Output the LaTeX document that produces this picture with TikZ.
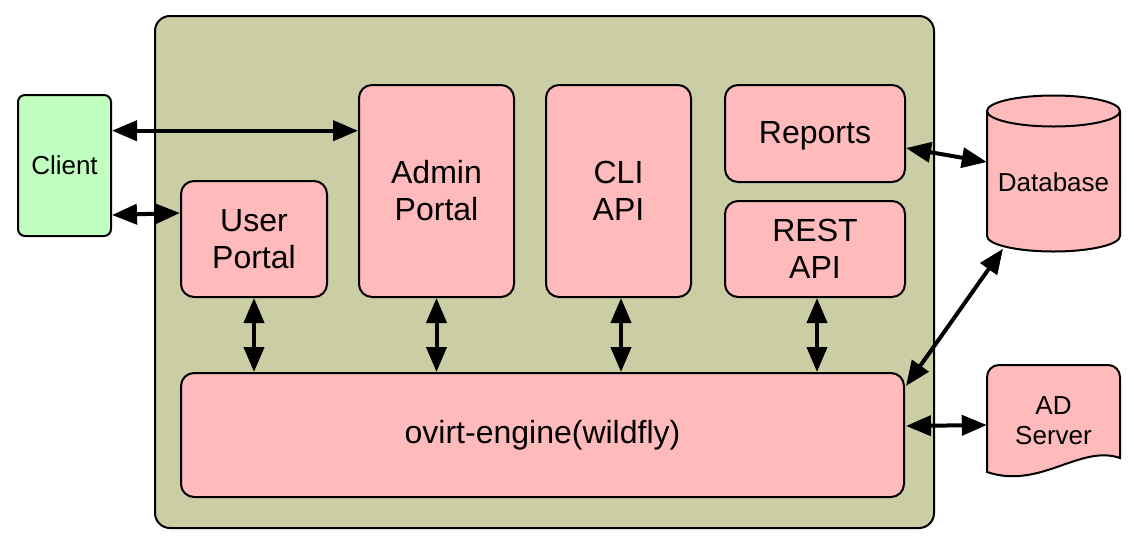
\documentclass[tikz,border=0pt]{standalone}
\usepackage{fontspec}
\setmainfont{Liberation Sans}
\usetikzlibrary{arrows.meta}
\definecolor{outerfill}{HTML}{CBCDA5}
\definecolor{pinkfill}{HTML}{FFBBBB}
\definecolor{greenfill}{HTML}{C0FFC0}
\begin{document}
\begin{tikzpicture}[x=1pt,y=-1pt,
  box/.style={draw=black,line width=2pt,fill=pinkfill,rounded corners=13pt,inner sep=0pt,align=center,font=\fontsize{32}{37}\selectfont},
  smalltext/.style={inner sep=0pt,align=center,font=\fontsize{26}{30}\selectfont},
  shapeline/.style={draw=black,line width=2pt,fill=pinkfill},
  arr/.style={line width=4pt,{Triangle[length=25pt,width=20pt]}-{Triangle[length=25pt,width=20pt]}}]
\useasboundingbox (0,0) rectangle (1134,544);
% container
\node[draw=black,line width=2pt,fill=outerfill,rounded corners=15pt,minimum width=779pt,minimum height=512pt,inner sep=0pt] (outer) at (544.5,272) {};
% client
\node[draw=black,line width=2pt,fill=greenfill,rounded corners=7pt,minimum width=93pt,minimum height=141pt,smalltext] (client) at (64.5,165.5) {Client};
% inner boxes
\node[box,minimum width=155pt,minimum height=212pt] (admin) at (436.5,191) {Admin\\Portal};
\node[box,minimum width=145pt,minimum height=212pt] (cli) at (618.5,191) {CLI\\API};
\node[box,minimum width=180pt,minimum height=97pt,text depth=3pt] (reports) at (815,133.5) {Reports};
\node[box,minimum width=180pt,minimum height=96pt] (rest) at (815,249) {REST\\API};
\node[box,minimum width=146pt,minimum height=116pt] (user) at (254,239) {User\\Portal};
\node[box,minimum width=723pt,minimum height=124pt] (engine) at (542.5,435) {ovirt-engine(wildfly)};
% database cylinder
\path[shapeline] (987,111) -- (987,236)
  .. controls (987,244.56) and (1016.8,251.5) .. (1053.5,251.5)
  .. controls (1090.2,251.5) and (1120,244.56) .. (1120,236)
  -- (1120,111)
  .. controls (1120,102.44) and (1090.2,95.5) .. (1053.5,95.5)
  .. controls (1016.8,95.5) and (987,102.44) .. (987,111) -- cycle;
\draw[line width=2pt] (987,111) .. controls (987,119.56) and (1016.8,126.5) .. (1053.5,126.5)
  .. controls (1090.2,126.5) and (1120,119.56) .. (1120,111);
\node[minimum width=133pt,minimum height=156pt,inner sep=0pt] (db) at (1053.5,173.5) {};
\node[smalltext] (dblabel) at (1053.5,182) {Database};
% AD server document
\path[shapeline] (987,472) -- (987,377)
  .. controls (987,370.4) and (992.4,365) .. (999,365) -- (1108,365)
  .. controls (1114.6,365) and (1120,370.4) .. (1120,377) -- (1120,458)
  .. controls (1080,444) and (1040,490) .. (987,472) -- cycle;
\node[minimum width=133pt,minimum height=107pt,inner sep=0pt] (ad) at (1053.5,418.5) {};
\node[smalltext] (adlabel) at (1053.5,421) {AD\\Server};
% connectors
\draw[arr] ([yshift=34.8pt]client.east) -- ([yshift=60.3pt]admin.west);
\draw[arr] ([yshift=-49.5pt]client.east) -- ([yshift=26pt]user.west);
\draw[arr] (user.south) -- (user.south |- engine.north);
\draw[arr] (admin.south) -- (admin.south |- engine.north);
\draw[arr] ([xshift=2.5pt]cli.south) -- ([xshift=2.5pt]cli.south |- engine.north);
\draw[arr] ([xshift=2pt]rest.south) -- ([xshift=2pt]rest.south |- engine.north);
\draw[arr] ([yshift=-14.5pt]reports.east) -- ([yshift=11.5pt]db.west);
\draw[arr] ([xshift=1pt,yshift=-14pt]engine.north east) -- ([xshift=-50.5pt,yshift=3pt]db.south);
\draw[arr] ([xshift=1pt,yshift=9pt]engine.east) -- ([yshift=-6.5pt]ad.west);
\end{tikzpicture}
\end{document}
